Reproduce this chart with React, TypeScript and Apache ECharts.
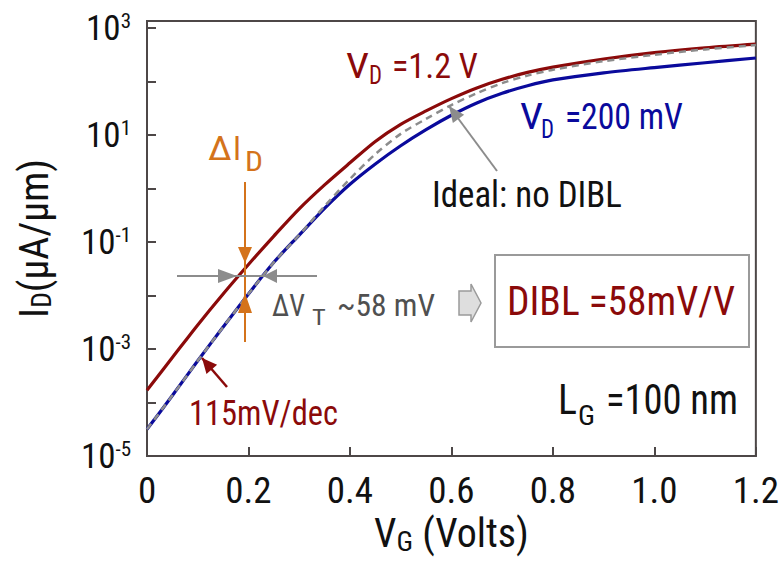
import React, { useEffect, useRef } from 'react';
import * as echarts from 'echarts';

// Gate voltage sweep (V)
const gateVoltage = [0, 0.05, 0.1, 0.15, 0.2, 0.25, 0.3, 0.35, 0.4, 0.45, 0.5, 0.55, 0.6, 0.65, 0.7, 0.75, 0.8, 0.9, 1.0, 1.1, 1.2];

// Drain current (µA/µm) at V_D = 1.2 V
const currentHighVd = [1.7e-4, 6.92e-4, 2.82e-3, 1.07e-2, 3.8e-2, 0.129, 0.417, 1.17, 3.02, 7.59, 15.8, 28.2, 47.9, 75.9, 110, 148, 186, 263, 347, 427, 501];

// Drain current (µA/µm) at V_D = 200 mV
const currentLowVd = [3.16e-5, 1.35e-4, 6.03e-4, 2.57e-3, 1.07e-2, 4.17e-2, 0.135, 0.427, 1.2, 2.88, 6.31, 12.6, 23.4, 39.8, 60.3, 83.2, 107, 145, 182, 224, 275];

// Ideal device without drain-induced barrier lowering
const currentIdeal = [3.16e-5, 1.35e-4, 6.03e-4, 2.57e-3, 1.07e-2, 4.17e-2, 0.135, 0.468, 1.51, 4.37, 10.5, 20.0, 36.3, 60.3, 93.3, 129, 166, 240, 316, 398, 479];

const NARROW = "'Liberation Sans Narrow', 'Arial Narrow', 'Nimbus Sans Narrow', 'Roboto Condensed', sans-serif";
const AXIS = '#4d4747';
const RED = '#8b0a0a';
const BLUE = '#0a0a9c';
const GRAY = '#8c8c8c';
const ORANGE = '#d4731b';
const TEXT = '#111111';
const NOTE_GRAY = '#505050';

type Pt = [number, number];

// Triangle arrow head with its point at `tip`, oriented from `tail`.
function arrowHead(tip: Pt, tail: Pt, len: number, half: number): Pt[] {
  const dx = tip[0] - tail[0];
  const dy = tip[1] - tail[1];
  const d = Math.hypot(dx, dy);
  const ux = dx / d;
  const uy = dy / d;
  const bx = tip[0] - ux * len;
  const by = tip[1] - uy * len;
  return [tip, [bx - uy * half, by + ux * half], [bx + uy * half, by - ux * half]];
}

function pairs(ys: number[]): Pt[] {
  return gateVoltage.map((v, i) => [v, ys[i]] as Pt);
}

let measureCtx: CanvasRenderingContext2D | null = null;
function textWidth(text: string, font: string): number {
  if (!measureCtx) measureCtx = document.createElement('canvas').getContext('2d');
  if (!measureCtx) return 0;
  measureCtx.font = font;
  return measureCtx.measureText(text).width;
}

// A text run placed by its left edge and vertical centre, squeezed to a given width.
function run(text: string, x: number, y: number, size: number, color: string, width?: number) {
  const font = `${size}px ${NARROW}`;
  let scaleX = 1;
  if (width) {
    const w = textWidth(text, font);
    if (w > 0) scaleX = Math.min(1.2, Math.max(0.78, width / w));
  }
  return {
    type: 'text',
    x,
    y,
    scaleX,
    z: 12,
    style: { text, font, fill: color, align: 'left', verticalAlign: 'middle' },
  };
}

export default function App() {
  const ref = useRef<HTMLDivElement>(null);

  useEffect(() => {
    if (!ref.current) return;
    const chart = echarts.init(ref.current, undefined, { renderer: 'svg' });

    const yLabel = (value: number) => {
      const l = Math.log10(value);
      const e = Math.round(l);
      if (Math.abs(l - e) > 1e-6 || e % 2 === 0) return '';
      return `{b|10}{s|${e}}`;
    };

    const leaderTip: Pt = [449, 106];
    const leaderTail: Pt = [497, 171];
    const slopeTip: Pt = [202, 358];
    const slopeTail: Pt = [227, 387];

    chart.setOption({
      animation: false,
      backgroundColor: '#ffffff',
      grid: {
        left: 147,
        right: 21,
        top: 21,
        bottom: 111,
        show: true,
        borderColor: AXIS,
        borderWidth: 2,
        containLabel: false,
      },
      xAxis: {
        type: 'value',
        min: 0,
        max: 1.2,
        interval: 0.2,
        axisLine: { show: true, onZero: false, lineStyle: { color: AXIS, width: 2 } },
        axisTick: { show: true, inside: true, length: 9, lineStyle: { color: AXIS, width: 2 } },
        splitLine: { show: false },
        axisLabel: {
          margin: 16,
          fontSize: 37,
          fontFamily: NARROW,
          color: TEXT,
          formatter: (v: number) => (v === 0 ? '0' : v.toFixed(1)),
        },
        name: '{a|V}{s|G}{a| (Volts)}',
        nameLocation: 'middle',
        nameGap: 55,
        nameTextStyle: {
          rich: {
            a: { fontSize: 40, fontFamily: NARROW, color: TEXT },
            s: { fontSize: 28, fontFamily: NARROW, color: TEXT, verticalAlign: 'bottom', padding: [16, 0, 0, 0] },
          },
        },
      },
      yAxis: {
        type: 'log',
        logBase: 10,
        min: 1e-5,
        max: Math.pow(10, 3.131),
        interval: 1,
        axisLine: { show: true, lineStyle: { color: AXIS, width: 2 } },
        axisTick: { show: true, inside: true, length: 9, lineStyle: { color: AXIS, width: 2 } },
        splitLine: { show: false },
        axisLabel: {
          margin: 16,
          formatter: yLabel,
          rich: {
            b: { fontSize: 35, fontFamily: NARROW, color: TEXT },
            s: { fontSize: 21, fontFamily: NARROW, color: TEXT, verticalAlign: 'top' },
          },
        },
        name: '{a|I}{s|D}{a|(µA/µm)}',
        nameLocation: 'middle',
        nameRotate: 90,
        nameGap: 92,
        nameTextStyle: {
          rich: {
            a: { fontSize: 40, fontFamily: NARROW, color: TEXT },
            s: { fontSize: 28, fontFamily: NARROW, color: TEXT, verticalAlign: 'bottom', padding: [14, 0, 0, 0] },
          },
        },
      },
      series: [
        {
          name: 'V_D = 1.2 V',
          type: 'line',
          data: pairs(currentHighVd),
          showSymbol: false,
          smooth: 0.3,
          lineStyle: { color: RED, width: 3.2 },
          z: 2,
        },
        {
          name: 'V_D = 200 mV',
          type: 'line',
          data: pairs(currentLowVd),
          showSymbol: false,
          smooth: 0.3,
          lineStyle: { color: BLUE, width: 3.2 },
          z: 3,
        },
        {
          name: 'Ideal: no DIBL',
          type: 'line',
          data: pairs(currentIdeal),
          showSymbol: false,
          smooth: 0.3,
          lineStyle: { color: GRAY, width: 2.5, type: [7, 5] },
          z: 4,
        },
      ],
      graphic: [
        // curve labels
        run('V', 346, 66, 35, RED, 23),
        run('D', 369, 76, 25, RED, 13),
        run('=1.2 V', 392, 66, 35, RED, 86),
        run('V', 520, 116.5, 37, BLUE, 23),
        run('D', 541, 129, 26, BLUE, 13),
        run('=200 mV', 565, 116.5, 37, BLUE, 118),
        run('Ideal: no DIBL', 432, 195, 37, TEXT, 190),
        // leader from the "Ideal" label to the dashed curve
        {
          type: 'line', z: 10,
          shape: { x1: leaderTail[0], y1: leaderTail[1], x2: leaderTip[0], y2: leaderTip[1] },
          style: { stroke: GRAY, lineWidth: 2 },
        },
        {
          type: 'polygon', z: 10,
          shape: { points: arrowHead(leaderTip, leaderTail, 16, 7) },
          style: { fill: GRAY },
        },
        // ΔI_D marker
        run('Δ', 208, 149, 33, ORANGE, 24),
        run('I', 233, 149, 33, ORANGE, 8),
        run('D', 245, 161.5, 27, ORANGE, 18),
        {
          type: 'line', z: 10,
          shape: { x1: 245, y1: 182, x2: 245, y2: 342 },
          style: { stroke: ORANGE, lineWidth: 2 },
        },
        {
          type: 'polygon', z: 10,
          shape: { points: [[238, 247], [252, 247], [245, 263]] },
          style: { fill: ORANGE },
        },
        {
          type: 'polygon', z: 10,
          shape: { points: [[245, 293], [238, 313], [252, 313]] },
          style: { fill: ORANGE },
        },
        // ΔV_T marker
        {
          type: 'line', z: 10,
          shape: { x1: 177, y1: 276, x2: 317, y2: 276 },
          style: { stroke: GRAY, lineWidth: 2 },
        },
        {
          type: 'polygon', z: 10,
          shape: { points: [[218, 269], [218, 283], [237, 276]] },
          style: { fill: GRAY },
        },
        {
          type: 'polygon', z: 10,
          shape: { points: [[263, 276], [277, 269], [277, 283]] },
          style: { fill: GRAY },
        },
        run('ΔV', 272, 305, 32, NOTE_GRAY, 33),
        run('T', 312, 317, 22, NOTE_GRAY, 14),
        run('~58 mV', 337, 305, 32, NOTE_GRAY, 98),
        // block arrow pointing to the result box
        {
          type: 'polygon', z: 10,
          shape: { points: [[459, 291], [471, 291], [471, 284], [481, 303], [471, 322], [471, 315], [459, 315]] },
          style: { fill: '#dedede', stroke: '#9a9a9a', lineWidth: 1.5 },
        },
        // result box
        {
          type: 'rect', z: 10,
          shape: { x: 495, y: 255, width: 254, height: 92 },
          style: { fill: '#ffffff', stroke: '#9a9a9a', lineWidth: 2 },
        },
        run('DIBL =58mV/V', 507, 301, 41, RED, 228),
        // gate length
        run('L', 558, 400, 42, TEXT, 19),
        run('G', 578, 416, 28, TEXT, 17),
        run('=100 nm', 606, 400, 42, TEXT, 132),
        // subthreshold slope callout
        {
          type: 'line', z: 10,
          shape: { x1: slopeTail[0], y1: slopeTail[1], x2: slopeTip[0], y2: slopeTip[1] },
          style: { stroke: RED, lineWidth: 2.5 },
        },
        {
          type: 'polygon', z: 10,
          shape: { points: arrowHead(slopeTip, slopeTail, 15, 7) },
          style: { fill: RED },
        },
        run('115mV/dec', 189, 412, 36, RED, 149),
      ],
    });

    return () => chart.dispose();
  }, []);

  return <div ref={ref} style={{ position: 'fixed', left: 0, top: 0, width: 782, height: 567 }} />;
}
